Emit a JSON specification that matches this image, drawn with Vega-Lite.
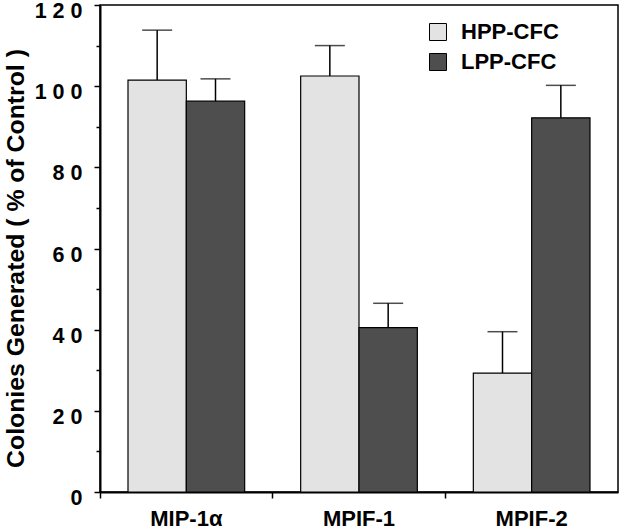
{
  "$schema": "https://vega.github.io/schema/vega-lite/v6.json",
  "width": 518,
  "height": 487,
  "autosize": {"type": "none"},
  "padding": {"left": 100, "top": 5, "right": 6, "bottom": 40},
  "background": "white",
  "config": {
    "font": "Liberation Sans",
    "view": {"stroke": "black", "strokeWidth": 1.5},
    "axis": {"domainColor": "black", "domainWidth": 2, "tickColor": "black", "tickWidth": 1.5, "labelColor": "black", "titleColor": "black", "grid": false, "labelFontWeight": "bold", "titleFontWeight": "bold"}
  },
  "data": {
    "values": [
      {"agent": "MIP-1α", "series": "HPP-CFC", "value": 101.5, "upper": 113.8},
      {"agent": "MIP-1α", "series": "LPP-CFC", "value": 96.3, "upper": 101.8},
      {"agent": "MPIF-1", "series": "HPP-CFC", "value": 102.5, "upper": 110.0},
      {"agent": "MPIF-1", "series": "LPP-CFC", "value": 40.5, "upper": 46.5},
      {"agent": "MPIF-2", "series": "HPP-CFC", "value": 29.3, "upper": 39.5},
      {"agent": "MPIF-2", "series": "LPP-CFC", "value": 92.2, "upper": 100.2}
    ]
  },
  "encoding": {
    "x": {
      "field": "agent", "type": "nominal", "sort": null,
      "scale": {"paddingInner": 0, "paddingOuter": 0},
      "axis": {"title": null, "labelAngle": 0, "bandPosition": 0, "tickSize": 6, "labelFontSize": 22, "labelPadding": 10, "labelFlush": false, "labelBaseline": "top"}
    },
    "xOffset": {"field": "series", "type": "nominal", "scale": {"paddingInner": 0, "paddingOuter": 0.48}}
  },
  "layer": [
    {
      "mark": {"type": "bar", "stroke": "black", "strokeWidth": 1.2},
      "encoding": {
        "y": {
          "field": "value", "type": "quantitative",
          "scale": {"domain": [0, 120], "nice": false},
          "axis": {
            "title": "Colonies Generated ( % of Control )",
            "titleFontSize": 24.8, "titleX": -84, "titleY": 253, "titleBaseline": "middle", "titleAngle": -90, "titleAlign": "center",
            "values": [0, 10, 20, 30, 40, 50, 60, 70, 80, 90, 100, 110, 120],
            "labelExpr": "datum.value % 20 === 0 ? join(split(datum.label, ''), ' ') : ''",
            "tickSize": {"condition": {"test": "datum.value % 20 === 0", "value": 6}, "value": 4},
            "labelFontSize": 21.5, "labelPadding": 12, "labelBaseline": "middle", "labelOffset": 6.5
          }
        },
        "fill": {
          "field": "series", "type": "nominal",
          "scale": {"domain": ["HPP-CFC", "LPP-CFC"], "range": ["#e3e3e3", "#4e4e4e"]},
          "legend": {
            "title": null, "orient": "none", "legendX": 327, "legendY": 16,
            "symbolType": "square", "symbolSize": 289, "symbolStrokeColor": "black", "symbolStrokeWidth": 1,
            "labelFontSize": 22, "labelFontWeight": "bold", "labelColor": "black", "labelOffset": 12, "rowPadding": 8
          }
        }
      }
    },
    {
      "mark": {"type": "rule", "color": "black", "strokeWidth": 1.5},
      "encoding": {
        "y": {"field": "value", "type": "quantitative"},
        "y2": {"field": "upper"}
      }
    },
    {
      "mark": {"type": "tick", "color": "black", "thickness": 1.5, "size": 30, "orient": "horizontal"},
      "encoding": {
        "y": {"field": "upper", "type": "quantitative"}
      }
    }
  ]
}
